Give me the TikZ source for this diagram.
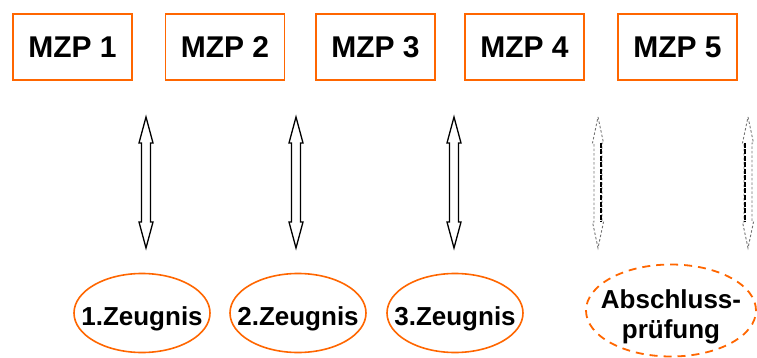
\documentclass[tikz,border=0pt]{standalone}
\usepackage{fontspec}
\setmainfont{Liberation Sans}
\usetikzlibrary{shapes.geometric}
\definecolor{mzporange}{RGB}{255,102,0}
\newcommand{\ztext}[2]{\makebox[0pt]{\raisebox{#1}[0pt][0pt]{#2}}}
\tikzset{
  mzpbox/.style={draw=mzporange, line width=1.4pt, minimum width=119pt, minimum height=66pt, inner sep=0pt,
    font=\bfseries\fontsize{30}{36}\selectfont},
  zeug/.style={ellipse, draw=mzporange, line width=1.6pt, minimum width=136pt, minimum height=79pt, inner sep=0pt,
    text height=0pt, text depth=0pt, font=\bfseries\fontsize{26}{30}\selectfont},
  abschl/.style={ellipse, draw=mzporange, line width=1.8pt, dash pattern=on 8pt off 6pt, minimum width=170pt,
    minimum height=92pt, inner sep=0pt, text height=0pt, text depth=0pt,
    font=\bfseries\fontsize{26}{30}\selectfont},
  dblarrow/.style={draw=black, line width=1.3pt, fill=white, line join=miter},
  dasharrow/.style={draw=black!55, line width=0.9pt, dash pattern=on 2.5pt off 2pt},
  dashshaft/.style={draw=black, line width=2.2pt, dash pattern=on 5pt off 1.5pt}
}
\newcommand{\hollowarrow}[3]{% center x, top y, bottom y
  \draw[dblarrow] (#1,#2) -- ++(7,26) -- ++(-2.5,0) -- (#1+4.5,#3-26) -- ++(2.5,0) -- (#1,#3)
    -- ++(-7,-26) -- ++(2.5,0) -- (#1-4.5,#2+26) -- ++(-2.5,0) -- cycle;}
\newcommand{\dashedarrow}[4]{% center x, top y, bottom y, side (+1 right, -1 left)
  \draw[dasharrow] (#1,#2) -- ++(5.5,26) -- ++(-1.5,0) -- (#1+4,#3-26) -- ++(1.5,0) -- (#1,#3)
    -- ++(-5.5,-26) -- ++(1.5,0) -- (#1-4,#2+26) -- ++(-1.5,0) -- cycle;
  \draw[dashshaft] (#1+#4*3,#2+26) -- (#1+#4*3,#3-26);}
\begin{document}
\begin{tikzpicture}[x=1pt,y=-1pt]
\useasboundingbox (0,0) rectangle (757,358);
\node[mzpbox] (m1) at (72.5,47) {MZP 1};
\node[mzpbox] (m2) at (225,47) {MZP 2};
\node[mzpbox] (m3) at (375.5,47) {MZP 3};
\node[mzpbox] (m4) at (524.5,47) {MZP 4};
\node[mzpbox] (m5) at (677.5,47) {MZP 5};

\hollowarrow{146}{117}{248}
\hollowarrow{296}{117}{248}
\hollowarrow{454}{117}{248}
\dashedarrow{598}{117}{248}{1}
\dashedarrow{748}{117}{248}{-1}

\node[zeug] (z1) at (142,313) {\ztext{-12pt}{1.Zeugnis}};
\node[zeug] (z2) at (298,313) {\ztext{-12pt}{2.Zeugnis}};
\node[zeug] (z3) at (455,313) {\ztext{-12pt}{3.Zeugnis}};
\node[abschl] (ab) at (671,310.5) {\ztext{2.5pt}{\vtop{\halign{\hfil#\hfil\cr Abschluss-\cr prüfung\cr}}}};
\end{tikzpicture}
\end{document}
